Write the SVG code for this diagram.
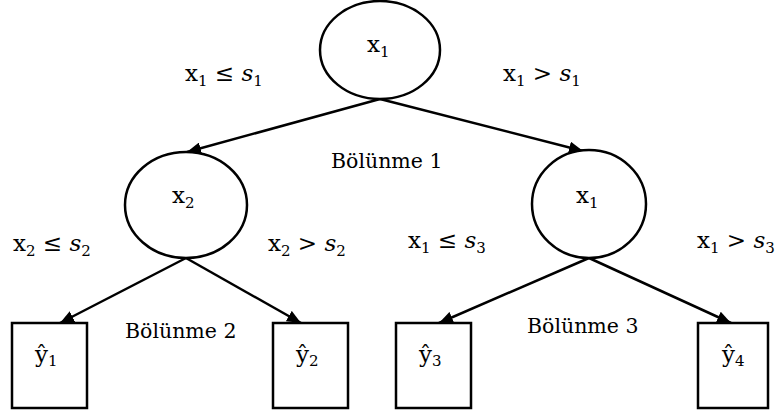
<svg xmlns="http://www.w3.org/2000/svg" width="777" height="410" viewBox="0 0 777 410">
<style>
.shape{fill:#fff;stroke:#000;stroke-width:2.5}
.edge{stroke:#000;stroke-width:2.5;fill:none}
text{font-family:"DejaVu Serif","Liberation Serif",serif;font-size:23px;fill:#000}
.sub{font-size:15px}
.it{font-style:italic}
.lbl{font-size:20.5px}
</style>
<defs>
<marker id="arr" viewBox="0 0 14 12" refX="14" refY="6" markerWidth="14" markerHeight="12" markerUnits="userSpaceOnUse" orient="auto">
<path d="M0,0 L14,6 L0,12 Z" fill="#000"/>
</marker>
</defs>
<g id="connectors">
<line class="edge" x1="380" y1="99" x2="187" y2="152" marker-end="url(#arr)"/>
<line class="edge" x1="380" y1="99" x2="583" y2="151" marker-end="url(#arr)"/>
<line class="edge" x1="186" y1="258" x2="60" y2="323" marker-end="url(#arr)"/>
<line class="edge" x1="186" y1="258" x2="301" y2="323" marker-end="url(#arr)"/>
<line class="edge" x1="589" y1="258" x2="439" y2="323" marker-end="url(#arr)"/>
<line class="edge" x1="589" y1="258" x2="731" y2="323" marker-end="url(#arr)"/>
</g>
<g id="n-root">
<ellipse class="shape" cx="380" cy="50" rx="60" ry="49"/>
<text x="367" y="52">x<tspan class="sub" dy="5">1</tspan></text>
</g>
<g id="n-left">
<ellipse class="shape" cx="186" cy="205" rx="61" ry="53"/>
<text x="172" y="203">x<tspan class="sub" dy="5">2</tspan></text>
</g>
<g id="n-right">
<ellipse class="shape" cx="589" cy="204" rx="57" ry="54"/>
<text x="576" y="203">x<tspan class="sub" dy="5">1</tspan></text>
</g>
<g id="leaf1">
<rect class="shape" x="12" y="323" width="75" height="85"/>
<text x="35" y="362">ŷ<tspan class="sub" dy="4">1</tspan></text>
</g>
<g id="leaf2">
<rect class="shape" x="273" y="323" width="75" height="85"/>
<text x="296" y="362">ŷ<tspan class="sub" dy="4">2</tspan></text>
</g>
<g id="leaf3">
<rect class="shape" x="396" y="323" width="75" height="85"/>
<text x="419" y="362">ŷ<tspan class="sub" dy="4">3</tspan></text>
</g>
<g id="leaf4">
<rect class="shape" x="698" y="323" width="70" height="85"/>
<text x="722" y="362">ŷ<tspan class="sub" dy="4">4</tspan></text>
</g>
<g id="labels">
<text x="185" y="81">x<tspan class="sub" dy="5">1</tspan><tspan dy="-5"> ≤ </tspan><tspan class="it">s</tspan><tspan class="sub" dy="5">1</tspan></text>
<text x="503" y="81">x<tspan class="sub" dy="5">1</tspan><tspan dy="-5"> &gt; </tspan><tspan class="it">s</tspan><tspan class="sub" dy="5">1</tspan></text>
<text x="13" y="251">x<tspan class="sub" dy="5">2</tspan><tspan dy="-5"> ≤ </tspan><tspan class="it">s</tspan><tspan class="sub" dy="5">2</tspan></text>
<text x="268" y="251">x<tspan class="sub" dy="5">2</tspan><tspan dy="-5"> &gt; </tspan><tspan class="it">s</tspan><tspan class="sub" dy="5">2</tspan></text>
<text x="408" y="248">x<tspan class="sub" dy="5">1</tspan><tspan dy="-5"> ≤ </tspan><tspan class="it">s</tspan><tspan class="sub" dy="5">3</tspan></text>
<text x="697" y="248">x<tspan class="sub" dy="5">1</tspan><tspan dy="-5"> &gt; </tspan><tspan class="it">s</tspan><tspan class="sub" dy="5">3</tspan></text>
<text class="lbl" x="331" y="168">Bölünme 1</text>
<text class="lbl" x="125" y="338">Bölünme 2</text>
<text class="lbl" x="527" y="333">Bölünme 3</text>
</g>
</svg>
